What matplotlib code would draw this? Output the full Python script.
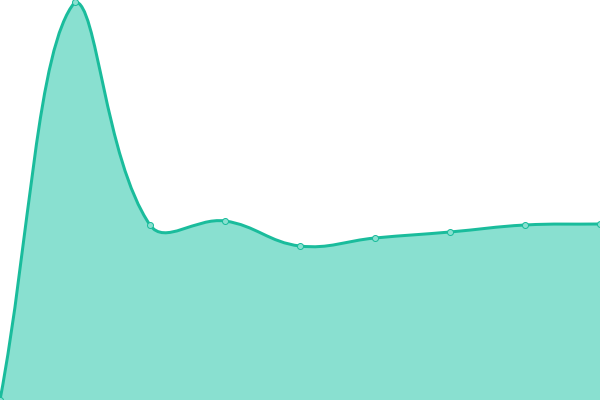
import numpy as np
import matplotlib
matplotlib.use('Agg')
from matplotlib import pyplot as plt
from matplotlib.path import Path
from matplotlib.patches import PathPatch

# data
labels = ['1', '2', '3', '4', '5', '6', '7', '8', '9']
values = [0, 398, 175, 179, 154, 162, 168, 175, 176]

lineColor = '#1abc9c'
fillColor = '#89e0d0'
tension = 0.4
ymin, ymax = 0, 400

def spline_path(xs, ys, t, lo, hi, closeTo=None):
    # chart.js style spline, control points capped to the chart area
    n = len(xs)
    verts = [(xs[0], ys[0])]
    codes = [Path.MOVETO]
    cps = []
    for i in range(n):
        px, py = (xs[i-1], ys[i-1]) if i > 0 else (xs[i], ys[i])
        nx, ny = (xs[i+1], ys[i+1]) if i < n-1 else (xs[i], ys[i])
        cx, cy = xs[i], ys[i]
        d01 = np.hypot(cx-px, cy-py)
        d12 = np.hypot(nx-cx, ny-cy)
        tot = d01 + d12
        s01 = d01/tot if tot else 0
        s12 = d12/tot if tot else 0
        fa, fb = t*s01, t*s12
        prev_cp = (cx - fa*(nx-px), min(max(cy - fa*(ny-py), lo), hi))
        next_cp = (cx + fb*(nx-px), min(max(cy + fb*(ny-py), lo), hi))
        cps.append((prev_cp, next_cp))
    for i in range(1, n):
        verts += [cps[i-1][1], cps[i][0], (xs[i], ys[i])]
        codes += [Path.CURVE4]*3
    if closeTo is not None:
        verts += [(xs[-1], closeTo), (xs[0], closeTo), (xs[0], ys[0])]
        codes += [Path.LINETO, Path.LINETO, Path.CLOSEPOLY]
    return Path(verts, codes)

xs = np.arange(len(values)) * 75.
ys = np.array(values, dtype=float)

fig = plt.figure(figsize=(6, 4), dpi=100)
ax = fig.add_axes([0, 0, 1, 1])
ax.set_xlim(0, 600)
ax.set_ylim(ymin, ymax)
ax.axis('off')

px2pt = 72./100
ax.add_patch(PathPatch(spline_path(xs, ys, tension, ymin, ymax, closeTo=ymin),
                       facecolor=fillColor, edgecolor='none'))
ax.add_patch(PathPatch(spline_path(xs, ys, tension, ymin, ymax),
                       facecolor='none', edgecolor=lineColor, linewidth=3*px2pt,
                       capstyle='round', joinstyle='round'))
ax.plot(xs, ys, 'o', ms=6*px2pt, mfc=fillColor, mec=lineColor, mew=1*px2pt,
        clip_on=False)

fig.savefig('out.png', dpi=100)
plt.close(fig)
